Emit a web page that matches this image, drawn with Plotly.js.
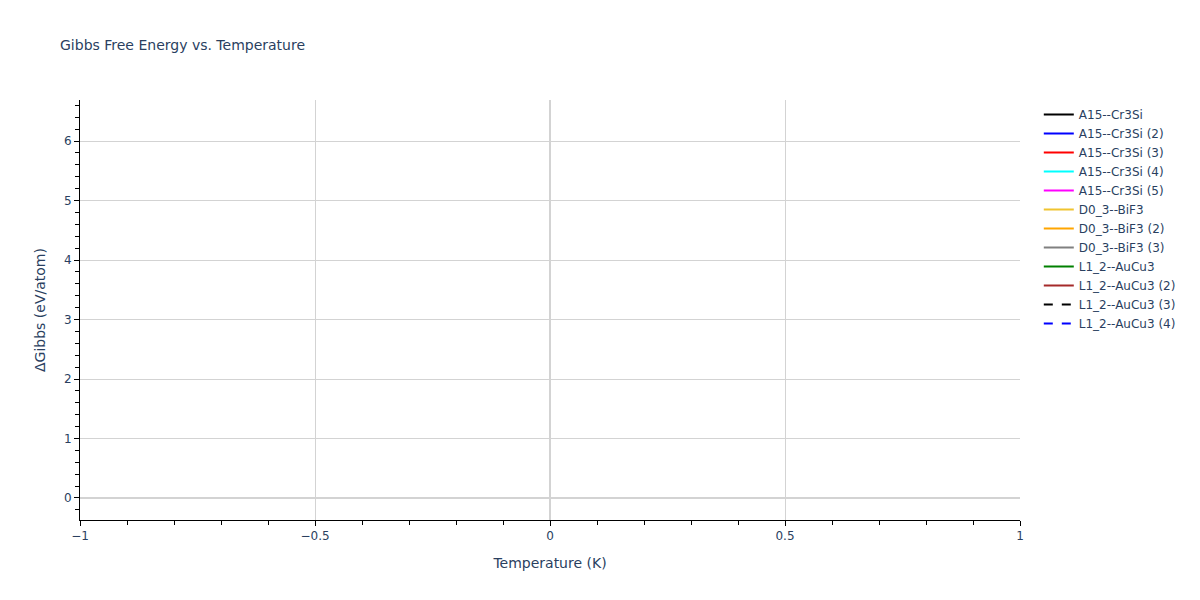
<!DOCTYPE html>
<html>
<head>
<meta charset="utf-8">
<script src="https://cdn.plot.ly/plotly-3.0.1.min.js"></script>
<style>html,body{margin:0;padding:0;background:#fff;}</style>
</head>
<body>
<div id="chart" style="width:1200px;height:600px;"></div>
<script>
// Series names, as shown in the legend (no data points are visible in the reference)
const seriesNames = [
  "A15--Cr3Si", "A15--Cr3Si (2)", "A15--Cr3Si (3)", "A15--Cr3Si (4)", "A15--Cr3Si (5)",
  "D0_3--BiF3", "D0_3--BiF3 (2)", "D0_3--BiF3 (3)",
  "L1_2--AuCu3", "L1_2--AuCu3 (2)", "L1_2--AuCu3 (3)", "L1_2--AuCu3 (4)"
];
const seriesColors = [
  "black", "blue", "red", "cyan", "magenta",
  "rgb(240,196,48)", "orange", "gray",
  "green", "brown", "black", "blue"
];
const seriesDash = [
  "solid", "solid", "solid", "solid", "solid",
  "solid", "solid", "solid",
  "solid", "solid", "dash", "dash"
];
// Temperature (K) and ΔGibbs (eV/atom) values: no valid values in the reference
const temperature = [null];
const gibbs = [null];

const traces = seriesNames.map((name, i) => ({
  type: "scatter",
  mode: "lines",
  name: name,
  x: temperature,
  y: gibbs,
  line: {color: seriesColors[i], dash: seriesDash[i], width: 2}
}));

const axisCommon = {
  showline: true,
  linecolor: "black",
  linewidth: 1,
  ticks: "outside",
  tickcolor: "black",
  ticklen: 5,
  gridcolor: "lightgray",
  zeroline: true,
  zerolinecolor: "lightgray",
  zerolinewidth: 2,
  minor: {ticks: "outside", ticklen: 4, tickcolor: "black", showgrid: false}
};

const layout = {
  title: {text: "Gibbs Free Energy vs. Temperature", x: 0.05, xanchor: "left", font: {size: 14}},
  font: {family: "Verdana, 'DejaVu Sans', sans-serif", color: "#2a3f5f", size: 12},
  paper_bgcolor: "white",
  plot_bgcolor: "white",
  margin: {l: 80, r: 180, t: 100, b: 80},
  xaxis: Object.assign({}, axisCommon, {
    title: {text: "Temperature (K)", standoff: 15},
    range: [-1, 1],
    dtick: 0.5,
    minor: Object.assign({}, axisCommon.minor, {dtick: 0.1})
  }),
  yaxis: Object.assign({}, axisCommon, {
    title: {text: "ΔGibbs (eV/atom)", standoff: 15},
    range: [-0.37, 6.69],
    dtick: 1,
    minor: Object.assign({}, axisCommon.minor, {dtick: 0.2})
  }),
  showlegend: true,
  width: 1200,
  height: 600
};

Plotly.newPlot("chart", traces, layout, {displayModeBar: false});
</script>
</body>
</html>
